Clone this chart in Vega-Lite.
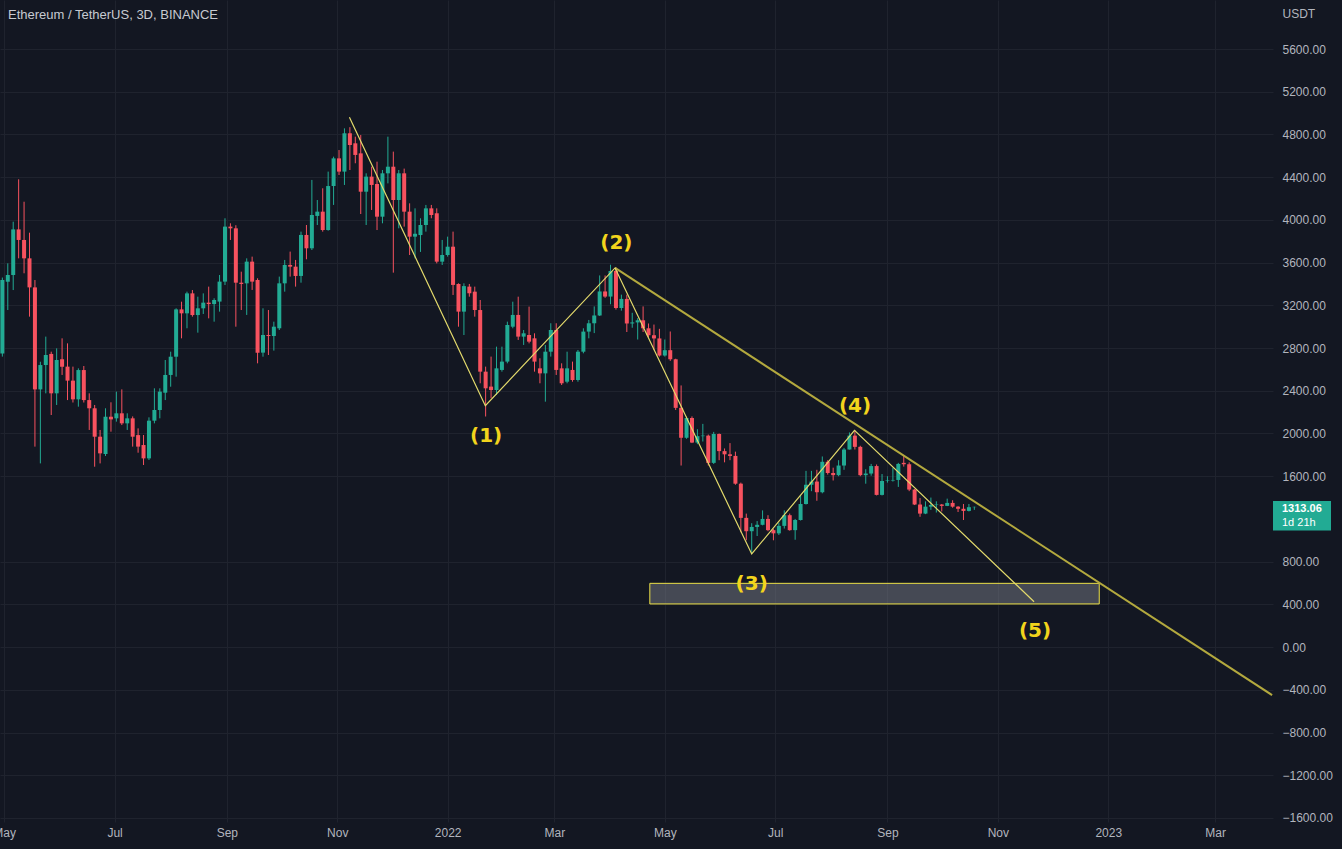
{
"$schema": "https://vega.github.io/schema/vega-lite/v6.json",
"width": 1273,
"height": 822,
"padding": {"left": 0, "top": 0, "right": 69, "bottom": 27},
"autosize": {"type": "none"},
"background": "#131722",
"config": {"view": {"stroke": null}},
"title": {"text": "Ethereum / TetherUS, 3D, BINANCE", "anchor": "start", "frame": "group", "orient": "top", "offset": -22, "dx": 8, "font": "Liberation Sans", "fontSize": 13, "fontWeight": "normal", "color": "#c7cad1"},
"datasets": {
"candles": [
{"d":"2021-04-30","o":2750,"h":3460,"l":2720,"c":3437},
{"d":"2021-05-03","o":3421,"h":3593,"l":3156,"c":3484},
{"d":"2021-05-06","o":3484,"h":3983,"l":3343,"c":3911},
{"d":"2021-05-09","o":3911,"h":4380,"l":3640,"c":3812},
{"d":"2021-05-12","o":3812,"h":4170,"l":3500,"c":3640},
{"d":"2021-05-15","o":3640,"h":3880,"l":3094,"c":3368},
{"d":"2021-05-18","o":3368,"h":3437,"l":1877,"c":2413},
{"d":"2021-05-21","o":2413,"h":2672,"l":1720,"c":2641},
{"d":"2021-05-24","o":2641,"h":2907,"l":2376,"c":2735},
{"d":"2021-05-27","o":2745,"h":2766,"l":2173,"c":2376},
{"d":"2021-05-30","o":2376,"h":2797,"l":2267,"c":2688},
{"d":"2021-06-02","o":2694,"h":2891,"l":2548,"c":2626},
{"d":"2021-06-05","o":2626,"h":2844,"l":2313,"c":2495},
{"d":"2021-06-08","o":2495,"h":2626,"l":2290,"c":2320},
{"d":"2021-06-11","o":2320,"h":2610,"l":2251,"c":2594},
{"d":"2021-06-14","o":2594,"h":2632,"l":2290,"c":2313},
{"d":"2021-06-17","o":2313,"h":2376,"l":2033,"c":2236},
{"d":"2021-06-20","o":2236,"h":2267,"l":1689,"c":1970},
{"d":"2021-06-23","o":1970,"h":2033,"l":1720,"c":1814},
{"d":"2021-06-26","o":1808,"h":2236,"l":1789,"c":2157},
{"d":"2021-06-29","o":2157,"h":2292,"l":2017,"c":2132},
{"d":"2021-07-02","o":2142,"h":2392,"l":2111,"c":2189},
{"d":"2021-07-05","o":2189,"h":2413,"l":2079,"c":2095},
{"d":"2021-07-08","o":2095,"h":2189,"l":2033,"c":2142},
{"d":"2021-07-11","o":2142,"h":2160,"l":1877,"c":1970},
{"d":"2021-07-14","o":1985,"h":2048,"l":1820,"c":1877},
{"d":"2021-07-17","o":1892,"h":1986,"l":1705,"c":1767},
{"d":"2021-07-20","o":1767,"h":2151,"l":1752,"c":2120},
{"d":"2021-07-23","o":2120,"h":2423,"l":2095,"c":2220},
{"d":"2021-07-26","o":2220,"h":2423,"l":2142,"c":2392},
{"d":"2021-07-29","o":2382,"h":2688,"l":2313,"c":2548},
{"d":"2021-08-01","o":2548,"h":2766,"l":2438,"c":2719},
{"d":"2021-08-04","o":2719,"h":3172,"l":2532,"c":3162},
{"d":"2021-08-07","o":3162,"h":3234,"l":2891,"c":3125},
{"d":"2021-08-10","o":3125,"h":3328,"l":2985,"c":3312},
{"d":"2021-08-13","o":3312,"h":3343,"l":3094,"c":3109},
{"d":"2021-08-16","o":3109,"h":3281,"l":2944,"c":3172},
{"d":"2021-08-19","o":3172,"h":3312,"l":3119,"c":3225},
{"d":"2021-08-22","o":3225,"h":3375,"l":3078,"c":3212},
{"d":"2021-08-25","o":3212,"h":3266,"l":3047,"c":3250},
{"d":"2021-08-28","o":3235,"h":3484,"l":3141,"c":3422},
{"d":"2021-08-31","o":3422,"h":4015,"l":3390,"c":3937},
{"d":"2021-09-03","o":3937,"h":3968,"l":3812,"c":3921},
{"d":"2021-09-06","o":3921,"h":3950,"l":3000,"c":3412},
{"d":"2021-09-09","o":3412,"h":3515,"l":3156,"c":3400},
{"d":"2021-09-12","o":3406,"h":3640,"l":3110,"c":3609},
{"d":"2021-09-15","o":3609,"h":3656,"l":3344,"c":3422},
{"d":"2021-09-18","o":3437,"h":3453,"l":2657,"c":2757},
{"d":"2021-09-21","o":2757,"h":3172,"l":2719,"c":2922},
{"d":"2021-09-24","o":2922,"h":3156,"l":2735,"c":2913},
{"d":"2021-09-27","o":2913,"h":3047,"l":2776,"c":3000},
{"d":"2021-09-30","o":2985,"h":3469,"l":2969,"c":3406},
{"d":"2021-10-03","o":3406,"h":3625,"l":3328,"c":3578},
{"d":"2021-10-06","o":3578,"h":3703,"l":3469,"c":3562},
{"d":"2021-10-09","o":3562,"h":3625,"l":3375,"c":3475},
{"d":"2021-10-12","o":3475,"h":3890,"l":3412,"c":3859},
{"d":"2021-10-15","o":3859,"h":3952,"l":3631,"c":3734},
{"d":"2021-10-18","o":3734,"h":4374,"l":3718,"c":4046},
{"d":"2021-10-21","o":4037,"h":4186,"l":3952,"c":4077},
{"d":"2021-10-24","o":4077,"h":4296,"l":3890,"c":3905},
{"d":"2021-10-27","o":3905,"h":4452,"l":3899,"c":4317},
{"d":"2021-10-30","o":4317,"h":4592,"l":4140,"c":4576},
{"d":"2021-11-02","o":4576,"h":4654,"l":4420,"c":4452},
{"d":"2021-11-05","o":4452,"h":4857,"l":4327,"c":4811},
{"d":"2021-11-08","o":4811,"h":4868,"l":4467,"c":4701},
{"d":"2021-11-11","o":4717,"h":4779,"l":4530,"c":4608},
{"d":"2021-11-14","o":4623,"h":4795,"l":4055,"c":4264},
{"d":"2021-11-17","o":4264,"h":4436,"l":3952,"c":4405},
{"d":"2021-11-20","o":4405,"h":4498,"l":4093,"c":4327},
{"d":"2021-11-23","o":4336,"h":4545,"l":3905,"c":4030},
{"d":"2021-11-26","o":4030,"h":4467,"l":3968,"c":4436},
{"d":"2021-11-29","o":4436,"h":4779,"l":4342,"c":4498},
{"d":"2021-12-02","o":4498,"h":4639,"l":3506,"c":4186},
{"d":"2021-12-05","o":4186,"h":4467,"l":3921,"c":4436},
{"d":"2021-12-08","o":4436,"h":4480,"l":3937,"c":4077},
{"d":"2021-12-11","o":4077,"h":4155,"l":3671,"c":3843},
{"d":"2021-12-14","o":3843,"h":4108,"l":3640,"c":3870},
{"d":"2021-12-17","o":3858,"h":4015,"l":3700,"c":3952},
{"d":"2021-12-20","o":3952,"h":4140,"l":3890,"c":4108},
{"d":"2021-12-23","o":4108,"h":4140,"l":4015,"c":4046},
{"d":"2021-12-26","o":4062,"h":4108,"l":3593,"c":3609},
{"d":"2021-12-29","o":3609,"h":3812,"l":3578,"c":3671},
{"d":"2022-01-01","o":3671,"h":3843,"l":3656,"c":3749},
{"d":"2022-01-04","o":3749,"h":3890,"l":3297,"c":3391},
{"d":"2022-01-07","o":3400,"h":3406,"l":3000,"c":3141},
{"d":"2022-01-10","o":3141,"h":3406,"l":2922,"c":3380},
{"d":"2022-01-13","o":3375,"h":3400,"l":3281,"c":3313},
{"d":"2022-01-16","o":3328,"h":3375,"l":3094,"c":3156},
{"d":"2022-01-19","o":3156,"h":3250,"l":2470,"c":2579},
{"d":"2022-01-22","o":2579,"h":2626,"l":2159,"c":2423},
{"d":"2022-01-25","o":2439,"h":2720,"l":2330,"c":2407},
{"d":"2022-01-28","o":2407,"h":2813,"l":2361,"c":2610},
{"d":"2022-01-31","o":2595,"h":2813,"l":2579,"c":2673},
{"d":"2022-02-03","o":2673,"h":3047,"l":2657,"c":3016},
{"d":"2022-02-06","o":3000,"h":3234,"l":2985,"c":3110},
{"d":"2022-02-09","o":3110,"h":3281,"l":2876,"c":2907},
{"d":"2022-02-12","o":2907,"h":2969,"l":2829,"c":2938},
{"d":"2022-02-15","o":2922,"h":3188,"l":2844,"c":2860},
{"d":"2022-02-18","o":2891,"h":2938,"l":2579,"c":2673},
{"d":"2022-02-21","o":2610,"h":2704,"l":2470,"c":2563},
{"d":"2022-02-24","o":2563,"h":2829,"l":2298,"c":2766},
{"d":"2022-02-27","o":2766,"h":3032,"l":2720,"c":2969},
{"d":"2022-03-02","o":2969,"h":3032,"l":2548,"c":2595},
{"d":"2022-03-05","o":2610,"h":2657,"l":2454,"c":2470},
{"d":"2022-03-08","o":2485,"h":2766,"l":2470,"c":2610},
{"d":"2022-03-11","o":2595,"h":2673,"l":2485,"c":2501},
{"d":"2022-03-14","o":2501,"h":2782,"l":2485,"c":2766},
{"d":"2022-03-17","o":2766,"h":2985,"l":2751,"c":2954},
{"d":"2022-03-20","o":2954,"h":3063,"l":2891,"c":3032},
{"d":"2022-03-23","o":3032,"h":3190,"l":2940,"c":3105},
{"d":"2022-03-26","o":3105,"h":3480,"l":3100,"c":3330},
{"d":"2022-03-29","o":3330,"h":3480,"l":3270,"c":3282},
{"d":"2022-04-01","o":3282,"h":3580,"l":3210,"c":3522},
{"d":"2022-04-04","o":3522,"h":3555,"l":3160,"c":3175},
{"d":"2022-04-07","o":3175,"h":3300,"l":3150,"c":3260},
{"d":"2022-04-10","o":3260,"h":3300,"l":2950,"c":3030},
{"d":"2022-04-13","o":3030,"h":3130,"l":2990,"c":3040},
{"d":"2022-04-16","o":3040,"h":3080,"l":2880,"c":3060},
{"d":"2022-04-19","o":3060,"h":3190,"l":2950,"c":2985},
{"d":"2022-04-22","o":2985,"h":3030,"l":2900,"c":2920},
{"d":"2022-04-25","o":2920,"h":3020,"l":2780,"c":2890},
{"d":"2022-04-28","o":2890,"h":2980,"l":2720,"c":2730},
{"d":"2022-05-01","o":2730,"h":2880,"l":2720,"c":2780},
{"d":"2022-05-04","o":2780,"h":2955,"l":2680,"c":2695},
{"d":"2022-05-07","o":2695,"h":2700,"l":2220,"c":2240},
{"d":"2022-05-10","o":2240,"h":2450,"l":1700,"c":1960},
{"d":"2022-05-13","o":1960,"h":2160,"l":1950,"c":2145},
{"d":"2022-05-16","o":2145,"h":2160,"l":1910,"c":1915},
{"d":"2022-05-19","o":1915,"h":2040,"l":1900,"c":1975},
{"d":"2022-05-22","o":1975,"h":2090,"l":1925,"c":1980},
{"d":"2022-05-25","o":1980,"h":1990,"l":1700,"c":1725},
{"d":"2022-05-28","o":1725,"h":2015,"l":1715,"c":1995},
{"d":"2022-05-31","o":1995,"h":2000,"l":1750,"c":1835},
{"d":"2022-06-03","o":1835,"h":1860,"l":1730,"c":1805},
{"d":"2022-06-06","o":1805,"h":1910,"l":1750,"c":1790},
{"d":"2022-06-09","o":1790,"h":1830,"l":1520,"c":1530},
{"d":"2022-06-12","o":1530,"h":1540,"l":1075,"c":1210},
{"d":"2022-06-15","o":1210,"h":1250,"l":1000,"c":1085},
{"d":"2022-06-18","o":1085,"h":1160,"l":881,"c":1125},
{"d":"2022-06-21","o":1125,"h":1180,"l":1040,"c":1145},
{"d":"2022-06-24","o":1145,"h":1280,"l":1140,"c":1200},
{"d":"2022-06-27","o":1200,"h":1235,"l":1085,"c":1095},
{"d":"2022-06-30","o":1095,"h":1105,"l":1000,"c":1065},
{"d":"2022-07-03","o":1065,"h":1165,"l":1050,"c":1135},
{"d":"2022-07-06","o":1135,"h":1280,"l":1110,"c":1235},
{"d":"2022-07-09","o":1235,"h":1250,"l":1090,"c":1095},
{"d":"2022-07-12","o":1095,"h":1200,"l":1005,"c":1190},
{"d":"2022-07-15","o":1190,"h":1420,"l":1185,"c":1340},
{"d":"2022-07-18","o":1340,"h":1650,"l":1335,"c":1520},
{"d":"2022-07-21","o":1520,"h":1650,"l":1460,"c":1550},
{"d":"2022-07-24","o":1550,"h":1660,"l":1370,"c":1450},
{"d":"2022-07-27","o":1450,"h":1785,"l":1440,"c":1735},
{"d":"2022-07-30","o":1735,"h":1750,"l":1615,"c":1630},
{"d":"2022-08-02","o":1630,"h":1680,"l":1560,"c":1610},
{"d":"2022-08-05","o":1610,"h":1750,"l":1600,"c":1700},
{"d":"2022-08-08","o":1700,"h":1865,"l":1660,"c":1850},
{"d":"2022-08-11","o":1850,"h":2010,"l":1850,"c":1980},
{"d":"2022-08-14","o":1980,"h":2030,"l":1850,"c":1875},
{"d":"2022-08-17","o":1875,"h":1885,"l":1600,"c":1610},
{"d":"2022-08-20","o":1610,"h":1665,"l":1530,"c":1625},
{"d":"2022-08-23","o":1625,"h":1715,"l":1605,"c":1695},
{"d":"2022-08-26","o":1695,"h":1710,"l":1420,"c":1425},
{"d":"2022-08-29","o":1425,"h":1620,"l":1420,"c":1555},
{"d":"2022-09-01","o":1555,"h":1600,"l":1540,"c":1560},
{"d":"2022-09-04","o":1560,"h":1680,"l":1550,"c":1565},
{"d":"2022-09-07","o":1565,"h":1725,"l":1500,"c":1715},
{"d":"2022-09-10","o":1725,"h":1790,"l":1690,"c":1712},
{"d":"2022-09-13","o":1712,"h":1730,"l":1460,"c":1475},
{"d":"2022-09-16","o":1475,"h":1480,"l":1330,"c":1335},
{"d":"2022-09-19","o":1335,"h":1395,"l":1220,"c":1250},
{"d":"2022-09-22","o":1250,"h":1365,"l":1245,"c":1315},
{"d":"2022-09-25","o":1315,"h":1400,"l":1285,"c":1330},
{"d":"2022-09-28","o":1330,"h":1365,"l":1260,"c":1335},
{"d":"2022-10-01","o":1335,"h":1340,"l":1270,"c":1322},
{"d":"2022-10-04","o":1322,"h":1390,"l":1320,"c":1350},
{"d":"2022-10-07","o":1350,"h":1375,"l":1305,"c":1315},
{"d":"2022-10-10","o":1315,"h":1320,"l":1265,"c":1295},
{"d":"2022-10-13","o":1295,"h":1340,"l":1190,"c":1275},
{"d":"2022-10-16","o":1275,"h":1340,"l":1270,"c":1310},
{"d":"2022-10-19","o":1310,"h":1315,"l":1285,"c":1313.06}
]
},
"layer": [
{
"data": {"name": "candles"},
"mark": {"type": "rule", "strokeWidth": 1},
"encoding": {
"x": {"field": "d", "type": "temporal",
 "scale": {"type": "utc", "padding": 0, "domain": [{"year": 2021, "month": 4, "date": 28, "hours": 16, "minutes": 48, "utc": true}, {"year": 2023, "month": 4, "date": 2, "utc": true}]},
 "axis": {"title": null, "orient": "bottom",
  "values": [{"year": 2021, "month": 5, "date": 1, "utc": true}, {"year": 2021, "month": 7, "date": 1, "utc": true}, {"year": 2021, "month": 9, "date": 1, "utc": true}, {"year": 2021, "month": 11, "date": 1, "utc": true}, {"year": 2022, "month": 1, "date": 1, "utc": true}, {"year": 2022, "month": 3, "date": 1, "utc": true}, {"year": 2022, "month": 5, "date": 1, "utc": true}, {"year": 2022, "month": 7, "date": 1, "utc": true}, {"year": 2022, "month": 9, "date": 1, "utc": true}, {"year": 2022, "month": 11, "date": 1, "utc": true}, {"year": 2023, "month": 1, "date": 1, "utc": true}, {"year": 2023, "month": 3, "date": 1, "utc": true}],
  "labelExpr": "utcFormat(datum.value, '%m') == '01' ? utcFormat(datum.value, '%Y') : utcFormat(datum.value, '%b')",
  "grid": true, "gridColor": "#1f232e", "gridWidth": 1,
  "domain": false, "ticks": false,
  "labelColor": "#b2b5be", "labelFont": "Liberation Sans", "labelFontSize": 12, "labelPadding": 5,
  "labelFlush": false, "labelOverlap": false, "labelBound": false}},
"y": {"field": "l", "type": "quantitative",
 "scale": {"domain": [-1637.6, 6058.8], "nice": false, "zero": false, "padding": 0},
 "axis": {"orient": "right", "title": "USDT", "titleAngle": 0, "titleAlign": "left", "titleBaseline": "middle", "titleX": 9, "titleY": 13,
  "titleFont": "Liberation Sans", "titleFontSize": 12, "titleFontWeight": "normal", "titleColor": "#b2b5be",
  "values": [-1600, -1200, -800, -400, 0, 400, 800, 1600, 2000, 2400, 2800, 3200, 3600, 4000, 4400, 4800, 5200, 5600],
  "format": ".2f", "grid": true, "gridColor": "#1f232e", "gridWidth": 1,
  "domain": false, "ticks": false, "tickSize": 0,
  "labelColor": "#b2b5be", "labelFont": "Liberation Sans", "labelFontSize": 12, "labelPadding": 9,
  "labelFlush": false, "labelOverlap": false, "labelBound": false}},
"y2": {"field": "h"},
"color": {"condition": {"test": "datum.c >= datum.o", "value": "#22ab94"}, "value": "#f7525f"}
}
},
{
"mark": {"type": "rule", "color": "#1f232e", "strokeWidth": 1},
"encoding": {"y": {"datum": 1200}}
},
{
"data": {"name": "candles"},
"mark": {"type": "bar", "size": 4},
"encoding": {
"x": {"field": "d", "type": "temporal"},
"y": {"field": "o", "type": "quantitative"},
"y2": {"field": "c"},
"color": {"condition": {"test": "datum.c >= datum.o", "value": "#22ab94"}, "value": "#f7525f"}
}
},
{
"data": {"values": [{"t1": "2022-04-22T17:00:00Z", "t2": "2022-12-27T00:00:00Z", "p1": 404, "p2": 597}]},
"mark": {"type": "rect", "fill": "#787b86", "fillOpacity": 0.5, "stroke": "#ece046", "strokeWidth": 1},
"encoding": {
"x": {"field": "t1", "type": "temporal"},
"x2": {"field": "t2"},
"y": {"field": "p1", "type": "quantitative"},
"y2": {"field": "p2"}
}
},
{
"data": {"values": [{"t": "2022-04-03T12:00:00Z", "p": 3550}, {"t": "2023-04-01T12:00:00Z", "p": -449}]},
"mark": {"type": "line", "color": "#b3a93e", "strokeWidth": 2},
"encoding": {
"x": {"field": "t", "type": "temporal"},
"y": {"field": "p", "type": "quantitative"}
}
},
{
"data": {"values": [
{"t": "2021-11-07T18:00:00Z", "p": 4961},
{"t": "2022-01-21T20:00:00Z", "p": 2260},
{"t": "2022-04-03T12:00:00Z", "p": 3550},
{"t": "2022-06-18T00:00:00Z", "p": 872},
{"t": "2022-08-13T19:00:00Z", "p": 2030},
{"t": "2022-11-21T00:00:00Z", "p": 425}
]},
"mark": {"type": "line", "color": "#e3da6c", "strokeWidth": 1.2},
"encoding": {
"x": {"field": "t", "type": "temporal"},
"y": {"field": "p", "type": "quantitative"}
}
},
{
"mark": {"type": "rule", "color": "#22ab94", "strokeWidth": 1, "strokeDash": [1, 2]},
"encoding": {"y": {"datum": 1313.06}}
},
{
"data": {"values": [
{"t": "2022-01-22T06:00:00Z", "p": 1977, "s": "(1)"},
{"t": "2022-04-04T05:00:00Z", "p": 3788, "s": "(2)"},
{"t": "2022-06-18T00:00:00Z", "p": 589, "s": "(3)"},
{"t": "2022-08-14T02:00:00Z", "p": 2259, "s": "(4)"},
{"t": "2022-11-21T12:00:00Z", "p": 153, "s": "(5)"}
]},
"mark": {"type": "text", "font": "DejaVu Sans", "fontSize": 20, "fontWeight": "bold", "color": "#f2d41c", "align": "center", "baseline": "middle"},
"encoding": {
"x": {"field": "t", "type": "temporal"},
"y": {"field": "p", "type": "quantitative"},
"text": {"field": "s"}
}
},
{
"data": {"values": [{"t1": "2023-04-02T00:00:00Z", "t2": "2023-05-04T01:00:00Z", "p1": 1092, "p2": 1368}]},
"mark": {"type": "rect", "fill": "#22ab94"},
"encoding": {
"x": {"field": "t1", "type": "temporal"},
"x2": {"field": "t2"},
"y": {"field": "p1", "type": "quantitative"},
"y2": {"field": "p2"}
}
},
{
"data": {"values": [{"t": "2023-04-02T00:00:00Z", "p": 1295, "s": "1313.06"}]},
"mark": {"type": "text", "font": "Liberation Sans", "fontSize": 11, "fontWeight": "bold", "color": "#ffffff", "align": "left", "baseline": "middle", "dx": 9},
"encoding": {
"x": {"field": "t", "type": "temporal"},
"y": {"field": "p", "type": "quantitative"},
"text": {"field": "s"}
}
},
{
"data": {"values": [{"t": "2023-04-02T00:00:00Z", "p": 1160, "s": "1d 21h"}]},
"mark": {"type": "text", "font": "Liberation Sans", "fontSize": 11, "color": "#ffffff", "align": "left", "baseline": "middle", "dx": 9},
"encoding": {
"x": {"field": "t", "type": "temporal"},
"y": {"field": "p", "type": "quantitative"},
"text": {"field": "s"}
}
}
]
}
